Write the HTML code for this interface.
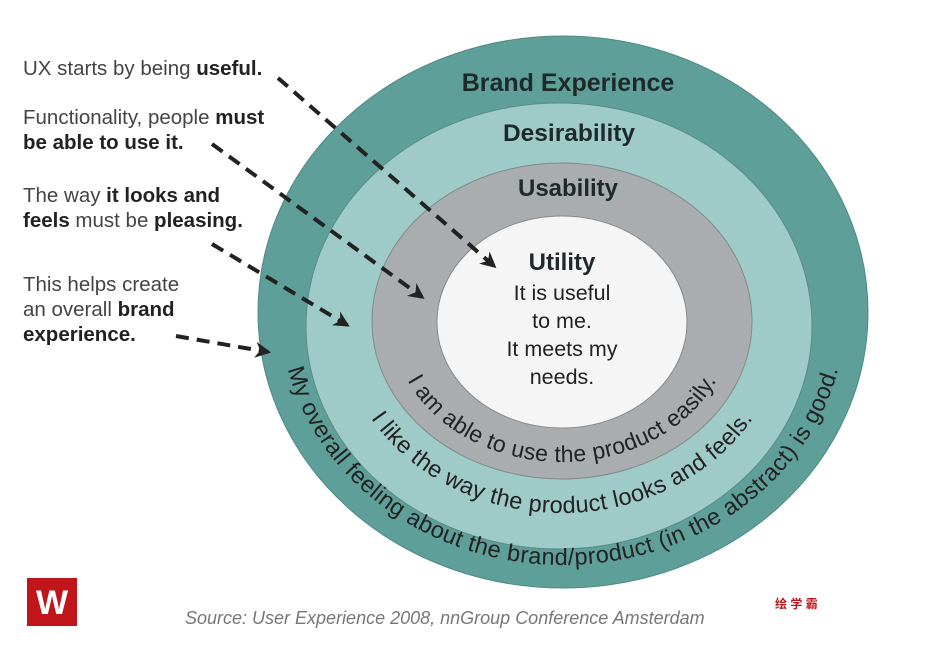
<!DOCTYPE html>
<html><head><meta charset="utf-8"><style>
html,body{margin:0;padding:0;background:#fff;width:937px;height:646px;overflow:hidden}
svg{display:block}
</style></head><body>
<svg width="937" height="646" viewBox="0 0 937 646" xmlns="http://www.w3.org/2000/svg" font-family="Liberation Sans, Arial, sans-serif">
<defs>
<path id="p1" d="M392,322 A170,140 0 0 0 732,322"/>
<path id="p2" d="M338,315 A224,198 0 0 0 786,315"/>
<path id="p3" d="M280,310 A283,255 0 0 0 846,310"/>
<marker id="ah" viewBox="0 0 10 10" refX="8" refY="5" markerWidth="4" markerHeight="4" orient="auto"><path d="M0,0 L10,5 L0,10 L3,5z" fill="#222"/></marker>
</defs>
<ellipse cx="563" cy="312" rx="305" ry="276" fill="#5f9f99" stroke="#4f8a85" stroke-width="1"/>
<ellipse cx="559" cy="326" rx="253" ry="223" fill="#9ecbc7" stroke="#5a8b86" stroke-width="1"/>
<ellipse cx="562" cy="321" rx="190" ry="158" fill="#a9adb0" stroke="#7f8a8a" stroke-width="1"/>
<ellipse cx="562" cy="322" rx="125" ry="106" fill="#f5f5f5" stroke="#888" stroke-width="1"/>
<g fill="#1e2a2a" font-weight="bold" text-anchor="middle">
<text x="568" y="91" font-size="25">Brand Experience</text>
<text x="569" y="141" font-size="24.5">Desirability</text>
<text x="568" y="196" font-size="24">Usability</text>
<text x="562" y="270" font-size="24">Utility</text>
</g>
<g fill="#222" font-size="21.5" text-anchor="middle">
<text x="562" y="300">It is useful</text>
<text x="562" y="328">to me.</text>
<text x="562" y="356">It meets my</text>
<text x="562" y="384">needs.</text>
</g>
<g fill="#222">
<text font-size="23" letter-spacing="0.3"><textPath href="#p1" startOffset="50%" text-anchor="middle">I am able to use the product easily.</textPath></text>
<text font-size="23.5" letter-spacing="0.3"><textPath href="#p2" startOffset="50%" text-anchor="middle">I like the way the product looks and feels.</textPath></text>
<text font-size="23.5" letter-spacing="0.4"><textPath href="#p3" startOffset="50%" text-anchor="middle">My overall feeling about the brand/product (in the abstract) is good.</textPath></text>
</g>
<g font-size="20.5" fill="#444">
<text x="23" y="75">UX starts by being <tspan font-weight="bold" fill="#222">useful.</tspan></text>
<text x="23" y="124">Functionality, people <tspan font-weight="bold" fill="#222">must</tspan></text>
<text x="23" y="149" font-weight="bold" fill="#222">be able to use it.</text>
<text x="23" y="202">The way <tspan font-weight="bold" fill="#222">it looks and</tspan></text>
<text x="23" y="227"><tspan font-weight="bold" fill="#222">feels</tspan> must be <tspan font-weight="bold" fill="#222">pleasing.</tspan></text>
<text x="23" y="291">This helps create</text>
<text x="23" y="316">an overall <tspan font-weight="bold" fill="#222">brand</tspan></text>
<text x="23" y="341" font-weight="bold" fill="#222">experience.</text>
</g>
<g stroke="#222" stroke-width="4" stroke-dasharray="13,8" fill="none" marker-end="url(#ah)">
<path d="M278,78 L494,266"/>
<path d="M212,144 L422,297"/>
<path d="M212,244 L347,325"/>
<path d="M176,336 L268,352"/>
</g>
<rect x="27" y="578" width="50" height="48" fill="#c0151b"/>
<text x="52" y="614" font-size="34" font-weight="bold" fill="#fff" text-anchor="middle">W</text>
<text x="185" y="624" font-size="18" font-style="italic" fill="#777">Source: User Experience 2008, nnGroup Conference Amsterdam</text>
<text x="775" y="608" font-size="12" font-weight="bold" fill="#c0151b" font-family="Liberation Sans, Noto Sans CJK SC, sans-serif">绘 学 霸</text>
</svg>
</body></html>
